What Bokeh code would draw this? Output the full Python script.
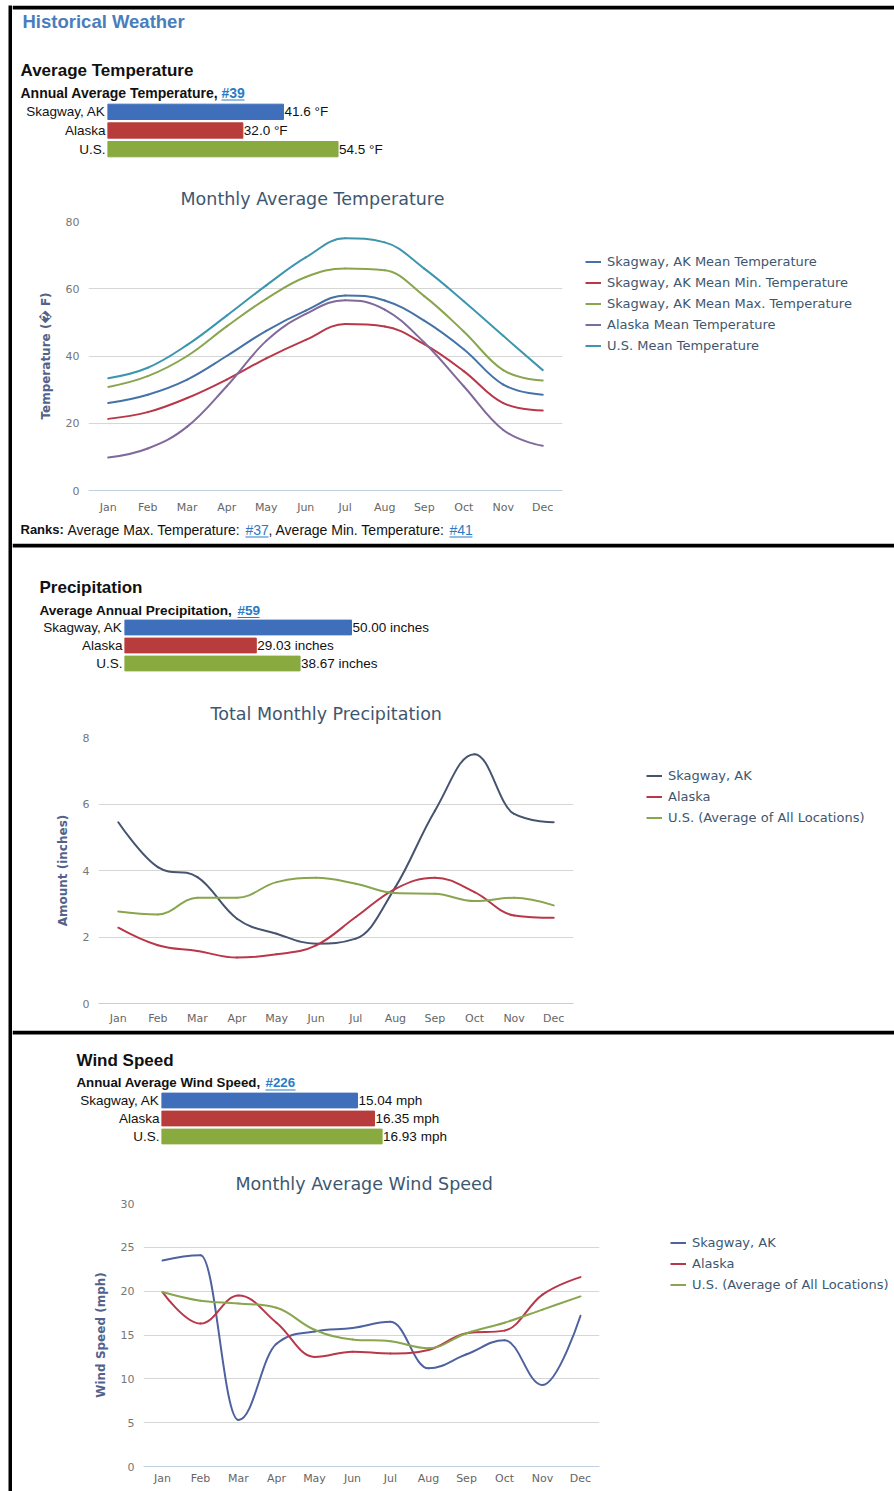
from bokeh.plotting import figure
from bokeh.models import (Range1d, FactorRange, Label, Legend, LegendItem, ColumnDataSource,
                          FixedTicker, Spacer, BoxAnnotation)
from bokeh.layouts import column, row
from bokeh.embed import file_html
from bokeh.resources import INLINE
from bokeh.core.properties import value

# ---------------- data ----------------
MONTHS = ["Jan", "Feb", "Mar", "Apr", "May", "Jun", "Jul", "Aug", "Sep", "Oct", "Nov", "Dec"]
LOCATIONS = ["Skagway, AK", "Alaska", "U.S."]
BAR_COLORS = ["#3f6fba", "#b83c3c", "#89aa3f"]

TEMP_ANNUAL = [41.6, 32.0, 54.5]
PRECIP_ANNUAL = [50.00, 29.03, 38.67]
WIND_ANNUAL = [15.04, 16.35, 16.93]

TEMP_SKAGWAY_MEAN = [26.0, 28.5, 33.0, 40.0, 47.5, 53.5, 58.0, 56.5, 50.5, 42.0, 31.5, 28.5]
TEMP_SKAGWAY_MIN = [21.3, 23.3, 27.5, 33.0, 39.3, 44.8, 49.5, 48.8, 43.5, 35.5, 26.0, 23.8]
TEMP_SKAGWAY_MAX = [30.8, 34.0, 40.0, 48.8, 57.0, 63.5, 66.0, 65.5, 57.8, 47.3, 35.8, 32.7]
TEMP_ALASKA_MEAN = [9.8, 12.5, 19.0, 31.0, 44.5, 52.5, 56.6, 53.8, 44.0, 31.0, 18.0, 13.3]
TEMP_US_MEAN = [33.4, 36.5, 43.3, 52.0, 61.0, 69.3, 75.0, 73.8, 66.0, 56.3, 46.0, 35.8]

PRECIP_SKAGWAY = [5.45, 4.1, 3.8, 2.55, 2.1, 1.8, 1.95, 3.5, 5.8, 7.5, 5.7, 5.45]
PRECIP_ALASKA = [2.28, 1.75, 1.58, 1.38, 1.48, 1.75, 2.6, 3.45, 3.78, 3.35, 2.65, 2.58]
PRECIP_US = [2.77, 2.68, 3.18, 3.18, 3.65, 3.78, 3.6, 3.32, 3.3, 3.08, 3.18, 2.95]

WIND_SKAGWAY = [23.5, 24.1, 5.3, 14.0, 15.4, 15.8, 16.5, 11.2, 12.8, 14.4, 9.3, 17.2]
WIND_ALASKA = [19.9, 16.3, 19.5, 16.4, 12.5, 13.1, 12.9, 13.3, 15.2, 15.5, 19.6, 21.6]
WIND_US = [19.9, 18.9, 18.6, 18.1, 15.6, 14.5, 14.3, 13.5, 15.2, 16.4, 17.9, 19.4]

W = 882
ARIAL = "Liberation Sans"
HC = "DejaVu Sans"
LINK = "#2b7bc4"
NAN = float("nan")


def black(w, h):
    return figure(width=w, height=h, min_border=0, toolbar_location=None, output_backend="svg",
                  x_axis_type=None, y_axis_type=None, background_fill_color="black",
                  border_fill_color="black", outline_line_color=None, frame_align=False)


def text_fig(h, labels, underlines, top_rule=True):
    p = figure(width=W, height=h, x_range=Range1d(0, W), y_range=Range1d(h, 0), min_border=0,
               toolbar_location=None, output_backend="svg", x_axis_type=None, y_axis_type=None,
               outline_line_color=None, frame_align=False)
    if top_rule:
        p.add_layout(BoxAnnotation(left=0, right=W, top=0, bottom=4, fill_color="black",
                                   fill_alpha=1.0, line_color=None))
    for (x, y, txt, size, bold, color) in labels:
        p.add_layout(Label(x=x, y=y, text=txt, text_font=ARIAL, text_font_size=size,
                           text_font_style="bold" if bold else "normal", text_color=color,
                           text_baseline="middle", text_align="left"))
    for (x0, x1, y) in underlines:
        p.segment(x0=[x0], y0=[y], x1=[x1], y1=[y], line_color=LINK, line_width=1)
    return p


def bar_fig(h, mbl, mbb, vals, xend, fmt):
    p = figure(width=W, height=h, y_range=FactorRange(*LOCATIONS[::-1]), x_range=Range1d(0, xend),
               min_border_left=mbl, min_border_right=0, min_border_top=0, min_border_bottom=mbb,
               x_axis_location=None, toolbar_location=None, output_backend="svg",
               outline_line_color=None, frame_align=False)
    p.grid.visible = False
    src = ColumnDataSource(dict(loc=LOCATIONS, val=vals, color=BAR_COLORS,
                                label=[fmt.format(v) for v in vals]))
    p.hbar(y="loc", left=0, right="val", height=0.82, color="color", source=src)
    p.text(x="val", y="loc", text="label", x_offset=1, text_baseline="middle",
           text_font=value(ARIAL), text_font_size="13.5px", text_color="#111111", source=src)
    ax = p.yaxis[0]
    ax.axis_line_color = None
    ax.major_tick_line_color = None
    ax.minor_tick_line_color = None
    ax.major_tick_out = 0
    ax.major_tick_in = 0
    ax.major_label_standoff = 2
    ax.major_label_text_font = ARIAL
    ax.major_label_text_font_size = "13.5px"
    ax.major_label_text_color = "#111111"
    return p


def spline_source(vals):
    n = len(vals)
    xs = [i + 0.5 for i in range(n)]
    sm = 1.5
    den = sm + 1
    lc = [None] * n
    rc = [None] * n
    for i in range(1, n - 1):
        px, py = xs[i], vals[i]
        lx, ly = xs[i - 1], vals[i - 1]
        nx, ny = xs[i + 1], vals[i + 1]
        lcx = (sm * px + lx) / den
        lcy = (sm * py + ly) / den
        rcx = (sm * px + nx) / den
        rcy = (sm * py + ny) / den
        corr = ((rcy - lcy) * (rcx - px)) / (rcx - lcx) + py - rcy
        lcy += corr
        rcy += corr
        if lcy > ly and lcy > py:
            lcy = max(ly, py); rcy = 2 * py - lcy
        elif lcy < ly and lcy < py:
            lcy = min(ly, py); rcy = 2 * py - lcy
        if rcy > ny and rcy > py:
            rcy = max(ny, py); lcy = 2 * py - rcy
        elif rcy < ny and rcy < py:
            rcy = min(ny, py); lcy = 2 * py - rcy
        lc[i] = (lcx, lcy)
        rc[i] = (rcx, rcy)
    d = dict(x0=[], y0=[], x1=[], y1=[], cx0=[], cy0=[], cx1=[], cy1=[])
    for i in range(1, n):
        c0 = rc[i - 1] or (xs[i - 1], vals[i - 1])
        c1 = lc[i] or (xs[i], vals[i])
        d["x0"].append(xs[i - 1]); d["y0"].append(vals[i - 1])
        d["x1"].append(xs[i]); d["y1"].append(vals[i])
        d["cx0"].append(c0[0]); d["cy0"].append(c0[1])
        d["cx1"].append(c1[0]); d["cy1"].append(c1[1])
    return ColumnDataSource(d)


def line_chart(h, mbt, mbb, mbl, frame_right, ymax, ticks, title, title_offset, title_standoff,
               xlabel_standoff, ylabel, series, legend_loc):
    wl = frame_right + 10
    p = figure(width=wl, height=h, x_range=FactorRange(*MONTHS), y_range=Range1d(0, ymax),
               min_border_top=mbt, min_border_bottom=mbb, min_border_left=mbl, min_border_right=10,
               toolbar_location=None, output_backend="svg", outline_line_color=None,
               frame_align=False)
    p.title.text = title
    p.title.text_font = HC
    p.title.text_font_size = "17.5px"
    p.title.text_font_style = "normal"
    p.title.text_color = "#3E576F"
    p.title.align = "left"
    p.title.offset = title_offset
    p.title.standoff = title_standoff
    p.xgrid.visible = False
    p.ygrid.grid_line_color = "#d6d6d6"
    p.yaxis.ticker = FixedTicker(ticks=ticks)
    ya = p.yaxis[0]
    ya.axis_line_color = None
    ya.major_tick_line_color = None
    ya.minor_tick_line_color = None
    ya.major_tick_out = 0
    ya.major_tick_in = 0
    ya.major_label_standoff = 9
    ya.major_label_text_font = HC
    ya.major_label_text_font_size = "11px"
    ya.major_label_text_color = "#777777"
    ya.axis_label = ylabel
    ya.axis_label_text_font = HC
    ya.axis_label_text_font_size = "12px"
    ya.axis_label_text_font_style = "bold"
    ya.axis_label_text_color = "#52628a"
    ya.axis_label_standoff = 10
    xa = p.xaxis[0]
    xa.axis_line_color = "#C0D0E0"
    xa.major_tick_line_color = None
    xa.minor_tick_line_color = None
    xa.major_tick_out = 0
    xa.major_tick_in = 0
    xa.major_label_standoff = xlabel_standoff
    xa.major_label_text_font = HC
    xa.major_label_text_font_size = "11px"
    xa.major_label_text_color = "#666666"
    for name, vals, color in series:
        p.bezier(x0="x0", y0="y0", x1="x1", y1="y1", cx0="cx0", cy0="cy0", cx1="cx1", cy1="cy1",
                 source=spline_source(vals), line_color=color, line_width=2, line_cap="round")

    # legend panel to the right of the chart
    wr = W - wl
    q = figure(width=wr, height=h, x_range=Range1d(0, wr), y_range=Range1d(0, h), min_border=0,
               toolbar_location=None, output_backend="svg", x_axis_type=None, y_axis_type=None,
               outline_line_color=None, frame_align=False)
    items = []
    for name, vals, color in series:
        r = q.line(x=[NAN, NAN], y=[NAN, NAN], line_color=color, line_width=2)
        items.append(LegendItem(label=name, renderers=[r]))
    legend = Legend(items=items, location=legend_loc, orientation="vertical", padding=0, margin=0,
                    spacing=0, glyph_width=16, glyph_height=21, label_height=21, label_standoff=6,
                    border_line_color=None, background_fill_alpha=0, label_text_font=HC,
                    label_text_font_size="13px", label_text_color="#3E576F")
    q.add_layout(legend)
    return row(p, q)


C_BLUE, C_RED, C_GREEN, C_PURPLE, C_TEAL = "#4572A7", "#b8384a", "#89A54E", "#80699B", "#3D96AE"

# ---------------- section 1 ----------------
t1 = text_fig(97, [
    (10, 16, "Historical Weather", "18.5px", True, "#4a7ebb"),
    (8, 65, "Average Temperature", "17px", True, "#111111"),
    (8, 87, "Annual Average Temperature,", "14px", True, "#111111"),
    (209, 87, "#39", "14px", True, LINK),
], [(209, 232, 94.5)])
b1 = bar_fig(58, 95, 2, TEMP_ANNUAL, 787 / 4.23, "{:.1f} °F")
l1 = line_chart(356, 61, 26, 76, 550, 80, [0, 20, 40, 60, 80], "Monthly Average Temperature", 92, 26, 10,
                "Temperature (\ufffd F)",
                [("Skagway, AK Mean Temperature", TEMP_SKAGWAY_MEAN, C_BLUE),
                 ("Skagway, AK Mean Min. Temperature", TEMP_SKAGWAY_MIN, C_RED),
                 ("Skagway, AK Mean Max. Temperature", TEMP_SKAGWAY_MAX, C_GREEN),
                 ("Alaska Mean Temperature", TEMP_ALASKA_MEAN, C_PURPLE),
                 ("U.S. Mean Temperature", TEMP_US_MEAN, C_TEAL)],
                (13, 160.5))
r1 = text_fig(27, [
    (8, 13, "Ranks:", "13px", True, "#111111"),
    (55, 13, "Average Max. Temperature:", "14px", False, "#111111"),
    (233, 13, "#37", "14px", False, LINK),
    (256, 13, ", Average Min. Temperature:", "14px", False, "#111111"),
    (437, 13, "#41", "14px", False, LINK),
], [(233, 256, 20.5), (437, 460, 20.5)], top_rule=False)

# ---------------- section 2 ----------------
t2 = text_fig(75, [
    (27, 44, "Precipitation", "17px", True, "#111111"),
    (27, 67, "Average Annual Precipitation,", "13.6px", True, "#111111"),
    (225, 67, "#59", "13.6px", True, LINK),
], [(225, 247, 74)])
b2 = bar_fig(56, 112, 2, PRECIP_ANNUAL, 770 / 4.54, "{:.2f} inches")
l2 = line_chart(356, 63, 27, 86, 561, 8, [0, 2, 4, 6, 8], "Total Monthly Precipitation", 112, 28, 8,
                "Amount (inches)",
                [("Skagway, AK", PRECIP_SKAGWAY, "#465470"),
                 ("Alaska", PRECIP_ALASKA, C_RED),
                 ("U.S. (Average of All Locations)", PRECIP_US, C_GREEN)],
                (63, 202.5))

# ---------------- section 3 ----------------
t3 = text_fig(61, [
    (64, 30, "Wind Speed", "17px", True, "#111111"),
    (64, 52, "Annual Average Wind Speed,", "13.3px", True, "#111111"),
    (253, 52, "#226", "13.3px", True, LINK),
], [(253, 283, 59.5)])
b3 = bar_fig(54, 149, 0, WIND_ANNUAL, 733 / 13.03, "{:.2f} mph")
l3 = line_chart(346, 58, 25, 131, 587, 30, [0, 5, 10, 15, 20, 25, 30], "Monthly Average Wind Speed", 92, 20, 5,
                "Wind Speed (mph)",
                [("Skagway, AK", WIND_SKAGWAY, "#4f62a0"),
                 ("Alaska", WIND_ALASKA, C_RED),
                 ("U.S. (Average of All Locations)", WIND_US, C_GREEN)],
                (61, 196.5))

content = column(t1, b1, l1, r1, t2, b2, l2, t3, b3, l3)
page = column(Spacer(width=894, height=5),
              row(Spacer(width=8, height=1486), black(4, 1486), content))

open("out.html", "w").write(file_html(page, INLINE))
